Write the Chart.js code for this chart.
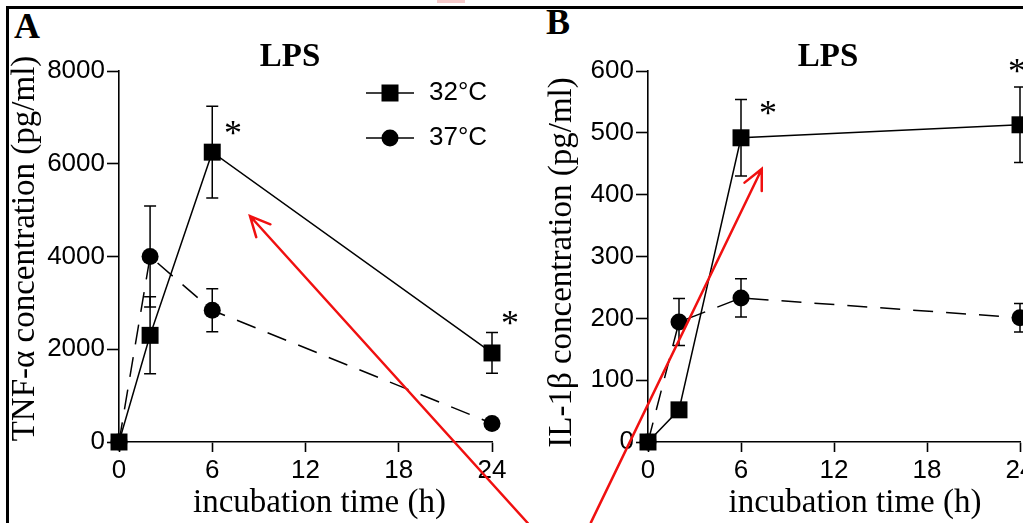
<!DOCTYPE html>
<html><head><meta charset="utf-8">
<script src="https://cdn.jsdelivr.net/npm/chart.js@4.4.1/dist/chart.umd.min.js"></script>
<style>
html,body{margin:0;padding:0;background:#fff;overflow:hidden;width:1023px;height:523px;}
#wrap{position:relative;width:1023px;height:523px;overflow:hidden;background:#fff;}
canvas{position:absolute;top:0;}
#cA{left:0;} #cB{left:520px;}
.frame{position:absolute;left:6px;top:6px;width:1100px;height:600px;border-top:3px solid #000;border-left:3px solid #000;}
.pl{position:absolute;font:bold 36px "Liberation Serif";line-height:36px;color:#000;}
.pink{position:absolute;left:437px;top:0;width:28px;height:3px;background:#f6caca;}
</style></head><body><div id="wrap">
<div class="frame"></div><div class="pink"></div>
<div class="pl" style="left:14px;top:8px">A</div>
<div class="pl" style="left:546px;top:4px">B</div>
<canvas id="cB" width="616" height="523"></canvas>
<canvas id="cA" width="580" height="523"></canvas>
</div>
<script>
// ---- data ----
const hours = [0, 2, 6, 24];
const xTicks = [0, 6, 12, 18, 24];
const seriesNames = ['32°C', '37°C'];
const tnf32 = [0, 2300, 6250, 1920];
const tnf32Err = [0, 830, 990, 440];
const tnf37 = [0, 4000, 2840, 400];
const tnf37Err = [0, 1090, 465, 60];
const il32 = [0, 52, 492, 513];
const il32Err = [0, 8, 62, 61];
const il37 = [0, 194, 233, 201];
const il37Err = [0, 38, 31, 23];
const tnfTicks = [0, 2000, 4000, 6000, 8000];
const ilTicks = [0, 100, 200, 300, 400, 500, 600];
const tnfStars = [[7.33, 6770], [25.16, 2674]];
const ilStars = [[7.74, 540], [23.8, 608]];
const tnfArrow = [[26.3, -1747], [8.43, 4873]];
const ilArrow = [[-3.68, -130], [7.34, 441.6]];

// ---- helpers ----
function icon(shape){
  const c = document.createElement('canvas'); c.width = 48; c.height = 20;
  const g = c.getContext('2d');
  g.strokeStyle = '#000'; g.lineWidth = 1.5;
  g.beginPath(); g.moveTo(0, 10); g.lineTo(48, 10); g.stroke();
  g.fillStyle = '#000';
  if (shape === 'rect') g.fillRect(15.5, 1.5, 17, 17);
  else { g.beginPath(); g.arc(24, 10, 8.5, 0, Math.PI * 2); g.fill(); }
  return c;
}
const legendIcons = [icon('rect'), icon('circle')];

const errorBars = {
  id: 'errorBars',
  beforeDatasetsDraw(chart){
    const {ctx, scales: {x, y}} = chart;
    ctx.save(); ctx.strokeStyle = '#000'; ctx.lineWidth = 1.5;
    chart.data.datasets.forEach(ds => {
      (ds.errors || []).forEach((e, i) => {
        if (!e) return;
        const px = x.getPixelForValue(ds.data[i].x);
        const hi = y.getPixelForValue(ds.data[i].y + e);
        const lo = y.getPixelForValue(ds.data[i].y - e);
        ctx.beginPath();
        ctx.moveTo(px, hi); ctx.lineTo(px, lo);
        ctx.moveTo(px - 6, hi); ctx.lineTo(px + 6, hi);
        ctx.moveTo(px - 6, lo); ctx.lineTo(px + 6, lo);
        ctx.stroke();
      });
    });
    ctx.restore();
  }
};
function makeStars(pts){
  return { id: 'stars', afterDatasetsDraw(chart){
    const {ctx, scales: {x, y}} = chart;
    ctx.save(); ctx.fillStyle = '#000'; ctx.font = '36px "Liberation Serif"';
    ctx.textAlign = 'center'; ctx.textBaseline = 'alphabetic';
    pts.forEach(([vx, vy]) => ctx.fillText('*', x.getPixelForValue(vx), y.getPixelForValue(vy) + 17));
    ctx.restore();
  }};
}
function makeArrow(pts){
  return { id: 'arrow', afterDraw(chart){
    const {ctx, scales: {x, y}} = chart;
    const x0 = x.getPixelForValue(pts[0][0]), y0 = y.getPixelForValue(pts[0][1]);
    const x1 = x.getPixelForValue(pts[1][0]), y1 = y.getPixelForValue(pts[1][1]);
    const a = Math.atan2(y1 - y0, x1 - x0), L = 22, w = 0.45;
    ctx.save(); ctx.strokeStyle = '#f01010'; ctx.lineWidth = 2.5; ctx.lineCap = 'round';
    ctx.beginPath(); ctx.moveTo(x0, y0); ctx.lineTo(x1, y1);
    ctx.moveTo(x1 - L * Math.cos(a - w), y1 - L * Math.sin(a - w)); ctx.lineTo(x1, y1);
    ctx.lineTo(x1 - L * Math.cos(a + w), y1 - L * Math.sin(a + w));
    ctx.stroke(); ctx.restore();
  }};
}
function shiftTitle(scale, dx, dy){
  if (scale._shifted) return;
  const orig = scale.drawTitle;
  scale.drawTitle = function(){ this.ctx.save(); this.ctx.translate(dx, dy); orig.call(this); this.ctx.restore(); };
  scale._shifted = true;
}
function makeShift(xs, ys){
  return { id: 'titleShift', beforeDraw(chart){ shiftTitle(chart.scales.x, xs[0], xs[1]); shiftTitle(chart.scales.y, ys[0], ys[1]); } };
}
function makeLegendPlace(dx, top){
  return { id: 'legendPlace', afterLayout(chart){
    const L = chart.legend; if (!L) return;
    L.left = chart.chartArea.left + dx; L.top = top;
    L.right = L.left + 200; L.bottom = L.top + 200; L.width = 200; L.height = 200;
  }};
}

function buildChart(id, opts){
  const datasets = [
    {label: seriesNames[0], data: hours.map((h, i) => ({x: h, y: opts.v32[i]})), errors: opts.e32,
     borderColor: '#000', backgroundColor: '#000', borderWidth: 1.5, pointStyle: 'rect', pointRadius: 12,
     pointBorderWidth: 0, fill: false, tension: 0, clip: false},
    {label: seriesNames[1], data: hours.map((h, i) => ({x: h, y: opts.v37[i]})), errors: opts.e37,
     borderColor: '#000', backgroundColor: '#000', borderWidth: 1.5, borderDash: [20, 13], pointStyle: 'circle', pointRadius: 8.5,
     pointBorderWidth: 0, fill: false, tension: 0, clip: false}
  ];
  const plugins = [errorBars, makeStars(opts.stars), makeArrow(opts.arrow), makeShift(opts.xShift, opts.yShift)];
  if (opts.legend) plugins.push(makeLegendPlace(226, 61));
  return new Chart(document.getElementById(id), {
    type: 'line',
    data: {datasets},
    plugins,
    options: {
      responsive: false, animation: false, events: [],
      layout: {padding: 0},
      plugins: {
        title: {display: true, text: 'LPS', color: '#000',
          font: {family: 'Liberation Serif', size: 33, weight: 'bold', lineHeight: '30px'},
          padding: {top: 42, bottom: -1}},
        legend: {display: !!opts.legend, position: 'chartArea', align: 'start',
          labels: {usePointStyle: true, pointStyleWidth: 52, padding: 19, color: '#000',
            font: {family: 'Liberation Sans', size: 26},
            generateLabels: chart => chart.data.datasets.map((ds, i) => ({text: ds.label, pointStyle: legendIcons[i],
              fillStyle: '#000', strokeStyle: '#000', lineWidth: 0, hidden: false, datasetIndex: i}))}},
        tooltip: {enabled: false}
      },
      scales: {
        x: {type: 'linear', min: 0, max: 24, position: 'bottom',
          afterBuildTicks: s => { s.ticks = xTicks.map(v => ({value: v})); },
          afterFit: s => { s.height = 81; },
          grid: {drawOnChartArea: false, tickLength: 10, tickWidth: 1.6, tickColor: '#000'},
          border: {color: '#000', width: 1.6},
          ticks: {color: '#000', font: {family: 'Liberation Sans', size: 26, lineHeight: 1.2}, padding: 3, maxRotation: 0, autoSkip: false,
            callback: v => String(v)},
          title: {display: true, text: 'incubation time (h)', color: '#000',
            font: {family: 'Liberation Serif', size: 33, lineHeight: '33px'}, padding: {top: 0, bottom: 3}}},
        y: {type: 'linear', min: 0, max: opts.yMax, position: 'left',
          afterBuildTicks: s => { s.ticks = opts.yTicks.map(v => ({value: v})); },
          afterFit: s => { s.width = opts.yWidth; },
          grid: {drawOnChartArea: false, tickLength: 12, tickWidth: 1.6, tickColor: '#000'},
          border: {color: '#000', width: 1.6},
          ticks: {color: '#000', font: {family: 'Liberation Sans', size: 26}, padding: opts.yPad, autoSkip: false,
            callback: v => String(v)},
          title: {display: true, text: opts.yTitle, color: '#000',
            font: {family: 'Liberation Serif', size: 33, lineHeight: '33px'}, padding: {top: opts.yTitlePad, bottom: 0}}},
        spacer: {type: 'linear', position: 'right', min: 0, max: 1, display: true,
          afterFit: s => { s.width = opts.rightSpace; },
          grid: {display: false}, border: {display: false}, ticks: {display: false}}
      }
    }
  });
}

buildChart('cB', {v32: il32, e32: il32Err, v37: il37, e37: il37Err, yMax: 600, yTicks: ilTicks,
  yWidth: 128, yPad: 2, yTitle: 'IL-1β concentration (pg/ml)', yTitlePad: 25.5, rightSpace: 116,
  stars: ilStars, arrow: ilArrow, xShift: [21, 0], yShift: [0, 6], legend: false});
buildChart('cA', {v32: tnf32, e32: tnf32Err, v37: tnf37, e37: tnf37Err, yMax: 8000, yTicks: tnfTicks,
  yWidth: 119, yPad: 2, yTitle: 'TNF-α concentration (pg/ml)', yTitlePad: 9, rightSpace: 88,
  stars: tnfStars, arrow: tnfArrow, xShift: [14, 0], yShift: [0, -8], legend: true});
</script></body></html>
